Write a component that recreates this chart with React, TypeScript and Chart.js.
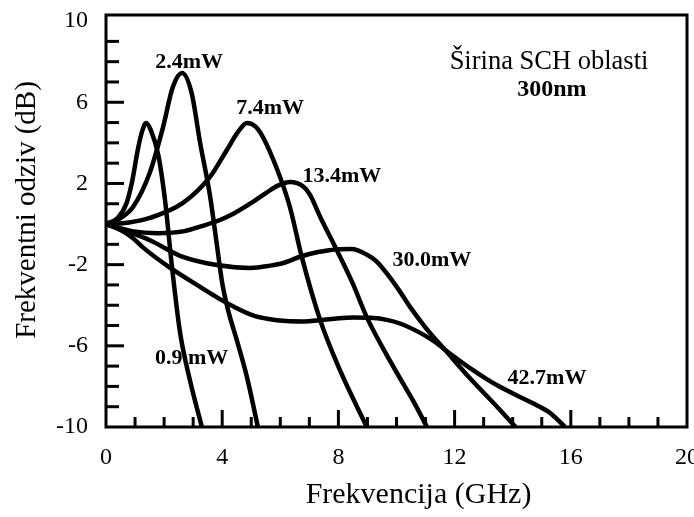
import React, { useEffect, useRef } from "react";
import { Chart, registerables } from "chart.js";

Chart.register(...registerables);

// ---- axis ticks ----
const xTicks = [0, 4, 8, 12, 16, 20];
const yTicks = [-10, -6, -2, 2, 6, 10];

// ---- series (frequency in GHz, response in dB) ----
const seriesNames = ["0.9mW", "2.4mW", "7.4mW", "13.4mW", "30.0mW", "42.7mW"];

const freq09 = [0, 0.4, 0.7, 0.9, 1.1, 1.25, 1.38, 1.55, 1.8, 2.03, 2.27, 2.55, 2.89, 3.3];
const resp09 = [0, 0.3, 1.0, 2.1, 3.7, 4.6, 4.98, 4.6, 3.4, 1.2, -2.1, -5.35, -7.7, -10];

const freq24 = [0, 0.45, 0.93, 1.5, 1.96, 2.3, 2.62, 2.95, 3.24, 3.58, 3.8, 4.0, 4.2, 4.5, 4.85, 5.23];
const resp24 = [0, 0.25, 0.84, 2.5, 4.75, 6.75, 7.44, 6.44, 4.0, 1.4, -0.85, -2.9, -4.23, -5.71, -7.53, -10];

const freq74 = [0, 0.8, 1.51, 2.65, 3.58, 4.16, 4.55, 4.85, 5.15, 5.4, 5.9, 6.33, 6.74, 7.37, 8.05, 8.64, 8.98];
const resp74 = [0, 0.08, 0.3, 1.04, 2.32, 3.65, 4.55, 4.98, 4.8, 4.29, 2.66, 0.84, -1.62, -4.72, -7.19, -9.0, -10];

const freq134 = [0, 0.9, 1.8, 2.7, 3.3, 3.92, 4.4, 5.07, 5.53, 5.9, 6.33, 6.79, 7.02, 7.37, 7.95, 8.5, 8.98, 9.9, 10.57, 11.05];
const resp134 = [0, -0.35, -0.45, -0.35, -0.1, 0.2, 0.52, 1.1, 1.55, 1.88, 2.07, 1.85, 1.45, 0.36, -1.3, -2.95, -4.6, -7.05, -8.7, -10];

const freq300 = [0, 0.8, 1.51, 2.65, 3.82, 4.96, 5.65, 6.1, 6.7, 7.3, 7.9, 8.45, 8.97, 9.32, 9.66, 10.12, 10.46, 11.0, 11.7, 12.53, 13.46, 14.1];
const resp300 = [0, -0.4, -0.8, -1.62, -2.02, -2.16, -2.05, -1.92, -1.6, -1.38, -1.25, -1.23, -1.5, -1.85, -2.42, -3.33, -4.07, -5.1, -6.25, -7.6, -9.0, -10];

const freq427 = [0, 0.5, 0.93, 1.27, 2.1, 3.24, 3.92, 4.37, 5.06, 5.6, 6.2, 6.8, 7.37, 8.0, 8.5, 9.1, 9.67, 10.12, 10.8, 11.26, 11.95, 12.43, 13.12, 13.56, 14.25, 14.8, 15.3, 15.8];
const resp427 = [0, -0.3, -0.7, -1.15, -2.05, -3.1, -3.7, -4.05, -4.5, -4.68, -4.78, -4.8, -4.74, -4.64, -4.6, -4.62, -4.72, -4.9, -5.35, -5.75, -6.5, -7.0, -7.65, -8.02, -8.52, -8.9, -9.32, -10];

const seriesFreq = [freq09, freq24, freq74, freq134, freq300, freq427];
const seriesResp = [resp09, resp24, resp74, resp134, resp300, resp427];

// ---- curve labels (data coordinates) ----
const labelTexts = ["0.9 mW", "2.4mW", "7.4mW", "13.4mW", "30.0mW", "42.7mW"];
const labelX = [2.95, 2.86, 5.65, 8.12, 11.22, 15.18];
const labelY = [-6.6, 7.98, 5.72, 2.37, -1.77, -7.58];

// ---- note text ----
const noteTexts = ["Širina SCH oblasti", "300nm"];
const noteBold = [false, true];
const noteX = [15.25, 15.35];
const noteY = [8.0, 6.6];

const xTitle = "Frekvencija (GHz)";
const yTitle = "Frekventni odziv (dB)";

const X_MIN = 0;
const X_MAX = 20;
const Y_MIN = -10;
const Y_MAX = 10.3;

const FONT = '"Liberation Serif", "Times New Roman", serif';

const decorPlugin = {
  id: "decor",
  afterDatasetsDraw(chart: any) {
    const { ctx, chartArea: a } = chart;
    const xs = chart.scales.x;
    const ys = chart.scales.y;
    ctx.save();
    ctx.strokeStyle = "#000";
    ctx.fillStyle = "#000";
    ctx.lineWidth = 3;
    ctx.lineCap = "butt";
    // inward minor/major ticks
    for (let v = X_MIN + 1; v < X_MAX; v++) {
      const px = xs.getPixelForValue(v);
      const len = v % 4 === 0 ? 17 : 10;
      ctx.beginPath();
      ctx.moveTo(px, a.bottom);
      ctx.lineTo(px, a.bottom - len);
      ctx.stroke();
    }
    for (let v = Y_MIN + 1; v < 10; v++) {
      const py = ys.getPixelForValue(v);
      const len = (v - Y_MIN) % 4 === 0 ? 18 : 13;
      ctx.beginPath();
      ctx.moveTo(a.left, py);
      ctx.lineTo(a.left + len, py);
      ctx.stroke();
    }
    // frame
    ctx.strokeRect(a.left, a.top, a.right - a.left, a.bottom - a.top);

    // curve labels
    ctx.textAlign = "center";
    ctx.textBaseline = "middle";
    ctx.font = `bold 22px ${FONT}`;
    labelTexts.forEach((t, i) => {
      ctx.fillText(t, xs.getPixelForValue(labelX[i]), ys.getPixelForValue(labelY[i]));
    });
    noteTexts.forEach((t, i) => {
      ctx.font = noteBold[i] ? `bold 24px ${FONT}` : `26.5px ${FONT}`;
      ctx.fillText(t, xs.getPixelForValue(noteX[i]), ys.getPixelForValue(noteY[i]));
    });

    // axis titles
    ctx.font = `30px ${FONT}`;
    ctx.textBaseline = "alphabetic";
    ctx.fillText(xTitle, (a.left + a.right) / 2 + 22, a.bottom + 76);
    ctx.font = `29px ${FONT}`;
    ctx.translate(35, (a.top + a.bottom) / 2 - 11);
    ctx.rotate(-Math.PI / 2);
    ctx.fillText(yTitle, 0, 0);
    ctx.restore();
  },
};

const zeroPad = (s: any) => {
  s.paddingLeft = 0;
  s.paddingRight = 0;
  s.paddingTop = 0;
  s.paddingBottom = 0;
};

export default function App() {
  const ref = useRef<HTMLCanvasElement | null>(null);
  useEffect(() => {
    if (!ref.current) return;
    const datasets = seriesNames.map((name, i) => ({
      label: name,
      data: seriesFreq[i].map((x, j) => ({ x, y: seriesResp[i][j] })),
      borderColor: "#000",
      backgroundColor: "#000",
      borderWidth: 4.5,
      pointRadius: 0,
      showLine: true,
      fill: false,
      cubicInterpolationMode: "monotone" as const,
    }));
    const chart = new Chart(ref.current, {
      type: "scatter",
      data: { datasets },
      options: {
        animation: false,
        responsive: false,
        devicePixelRatio: 1,
        layout: { padding: { top: 15, right: 7, left: 0, bottom: 0 } },
        plugins: { legend: { display: false }, tooltip: { enabled: false } },
        scales: {
          x: {
            type: "linear",
            position: "bottom",
            min: X_MIN,
            max: X_MAX,
            grid: { display: false, drawTicks: false },
            border: { display: false },
            afterBuildTicks: (s: any) => {
              s.ticks = xTicks.map((v) => ({ value: v }));
            },
            afterFit: (s: any) => {
              s.height = 90;
              zeroPad(s);
            },
            ticks: {
              autoSkip: false,
              maxRotation: 0,
              padding: 16,
              color: "#000",
              font: { family: FONT, size: 24 },
            },
          },
          y: {
            type: "linear",
            position: "left",
            min: Y_MIN,
            max: Y_MAX,
            grid: { display: false, drawTicks: false },
            border: { display: false },
            afterBuildTicks: (s: any) => {
              s.ticks = yTicks.map((v) => ({ value: v }));
            },
            afterFit: (s: any) => {
              s.width = 106;
              zeroPad(s);
            },
            ticks: {
              autoSkip: false,
              padding: 18,
              color: "#000",
              font: { family: FONT, size: 24 },
            },
          },
        },
      },
      plugins: [decorPlugin],
    });
    return () => chart.destroy();
  }, []);
  return (
    <div style={{ position: "fixed", left: 0, top: 0, width: 694, height: 517, background: "#fff" }}>
      <canvas ref={ref} width={694} height={517} style={{ display: "block", width: 694, height: 517 }} />
    </div>
  );
}
